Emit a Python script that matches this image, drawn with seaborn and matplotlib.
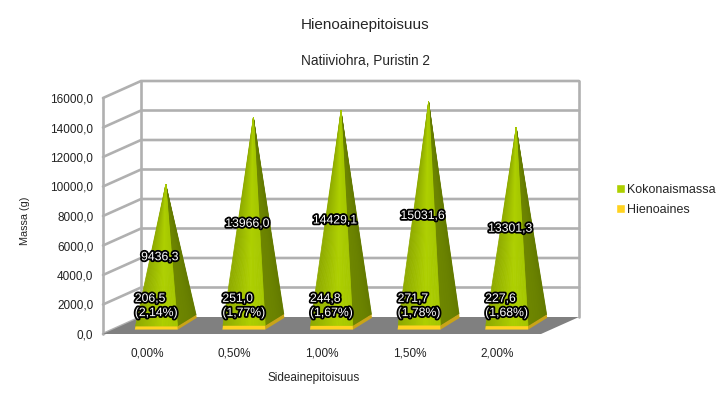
import numpy as np
import pandas as pd
import matplotlib
matplotlib.use("Agg")
import matplotlib.pyplot as plt
import matplotlib.patheffects as pe
from matplotlib.collections import PolyCollection
from matplotlib.colors import to_rgb
from matplotlib.patches import Polygon
import seaborn as sns

categories = ["0,00%", "0,50%", "1,00%", "1,50%", "2,00%"]
total_mass = [9436.3, 13966.0, 14429.1, 15031.6, 13301.3]
fines = [206.5, 251.0, 244.8, 271.7, 227.6]
fines_pct = ["2,14%", "1,77%", "1,67%", "1,78%", "1,68%"]
y_ticks = list(range(0, 16001, 2000))

GREEN, YELLOW = "#AECF00", "#FFD320"
GRID = "#b0b0b0"
FONT = "Liberation Sans"

sns.set_style("white")
plt.rcParams["font.family"] = FONT

fig = plt.figure(figsize=(7.27, 4.0), dpi=100)
ax = fig.add_axes([103 / 727, (400 - 334) / 400, 438 / 727, 236 / 400])

df = pd.DataFrame({
    "cat": categories * 2,
    "val": total_mass + fines,
    "series": ["Kokonaismassa"] * 5 + ["Hienoaines"] * 5,
})
sns.barplot(data=df, x="cat", y="val", hue="series", dodge=False, width=0,
            palette=[GREEN, YELLOW], saturation=1, ax=ax, legend=True)

ax.set_xlim(-0.5, 4.5)
ax.set_ylim(0, 16000)
DX = 38 / 87.6      # oblique depth in x (category units)
DY = 17 / 236 * 16000  # oblique depth in y (value units)


def P(x, v, dx, dy=None):
    dy = dx if dy is None else dy
    return (x + dx * DX, v + dy * DY)


# walls and floor
x0, x1 = -0.5, 4.5
ax.add_patch(Polygon([P(x0, 0, 0), P(x1, 0, 0), P(x1, 0, 1), P(x0, 0, 1)],
                     fc="#808080", ec="none", clip_on=False, zorder=2))
LW = 1.9
for t in y_ticks:
    if t > 0:
        ax.plot(*zip(P(x0, t, 0), P(x0, t, 1), P(x1, t, 1)), color=GRID, lw=LW,
                clip_on=False, zorder=1, solid_joinstyle="miter")
ax.plot(*zip(P(x0, 0, 0), P(x0, 0, 1)), color=GRID, lw=LW, clip_on=False, zorder=1)
ax.plot(*zip(P(x0, 0, 0), P(x0, 16000, 0)), color=GRID, lw=LW, clip_on=False, zorder=1)
ax.plot(*zip(P(x0, 0, 1), P(x0, 16000, 1)), color=GRID, lw=LW, clip_on=False, zorder=1)
ax.plot(*zip(P(x1, 0, 1), P(x1, 16000, 1)), color=GRID, lw=LW, clip_on=False, zorder=1)

HW = 21.5 / 87.6
D_FX, D_BX, D_FY, D_BY = 0.25, 0.75, 0.26, 0.95
AX_D, AY_D = 0.5, 0.6


def mix(a, b, t):
    return tuple((1 - t) * np.array(to_rgb(a)) + t * np.array(to_rgb(b)))


def corners(i, top, h):
    """Front-left, front-right, back-right points of the pyramid slice at value h."""
    apex = np.array(P(i, top, AX_D, AY_D))
    base = [P(i - HW, 0, D_FX, D_FY), P(i + HW, 0, D_FX, D_FY), P(i + HW, 0, D_BX, D_BY)]
    return [np.array(b) + (apex - np.array(b)) * (h / top) for b in base], apex


def face_strips(a, b, apex, c1, c2, c3, n=24):
    verts, cols = [], []
    for k in range(n):
        s, e = k / n, (k + 1) / n
        verts.append([a + (b - a) * s, a + (b - a) * e, apex])
        m = (s + e) / 2
        cols.append(mix(c1, c2, m / 0.65) if m < 0.65 else mix(c2, c3, (m - 0.65) / 0.35))
    return PolyCollection(verts, facecolors=cols, edgecolors=cols, linewidths=0.55,
                          clip_on=False, zorder=4)


for i, (tot, fin) in enumerate(zip(total_mass, fines)):
    (fl, fr, br), apex = corners(i, tot, fin)
    (fl0, fr0, br0), _ = corners(i, tot, 0)
    # green pyramid
    ax.add_collection(face_strips(fr, br, apex, "#6f8700", "#6a8200", "#647b00"), autolim=False)
    ax.add_collection(face_strips(fl, fr, apex, "#8ea900", "#aed000", "#a6c700"), autolim=False)
    # yellow base slab
    ax.add_patch(Polygon([fr0, br0, br, fr], fc="#c9a418", ec="none", clip_on=False, zorder=5))
    ax.add_patch(Polygon([fl0, fr0, fr, fl], fc=YELLOW, ec="none", clip_on=False, zorder=5))

halo = [pe.withStroke(linewidth=2.6, foreground="black")]
for i, (tot, fin, pct) in enumerate(zip(total_mass, fines, fines_pct)):
    ax.text(*P(i, tot / 2, 0.34, 0.42), f"{tot:.1f}".replace(".", ","), color="white",
            ha="center", va="center", fontsize=8.8, path_effects=halo, zorder=6, clip_on=False)
    ax.text(*P(i - HW, 1900, D_FX, 0), f"{fin:.1f}".replace(".", ",") + f"\n({pct})", color="white",
            ha="left", va="center", fontsize=8.8, linespacing=1.25, path_effects=halo, zorder=6, clip_on=False)

for s in ax.spines.values():
    s.set_visible(False)
ax.set_yticks(y_ticks, [f"{t},0" for t in y_ticks])
ax.tick_params(axis="both", length=0, labelsize=8.5, colors="#222222")
ax.tick_params(axis="y", pad=7)
ax.tick_params(axis="x", pad=9.5)
ax.set_xlabel("")
ax.set_ylabel("")

fig.text(25 / 727, 1 - 221 / 400, "Massa (g)", rotation=90, ha="center", va="center", fontsize=7.8)
fig.text(313.5 / 727, 1 - 378 / 400, "Sideainepitoisuus", ha="center", va="center", fontsize=8.5)
fig.text(365 / 727, 1 - 24.5 / 400, "Hienoainepitoisuus", ha="center", va="center", fontsize=11)
fig.text(365 / 727, 1 - 61 / 400, "Natiiviohra, Puristin 2", ha="center", va="center", fontsize=9.8)

sns.move_legend(ax, "center left", bbox_to_anchor=(616 / 727, 1 - 200 / 400),
                bbox_transform=fig.transFigure, frameon=False, title=None,
                fontsize=9, handlelength=0.75, handleheight=0.75, handletextpad=0.15,
                labelspacing=0.6, borderpad=0, borderaxespad=0)

fig.savefig("out.png", dpi=100, facecolor="white")
